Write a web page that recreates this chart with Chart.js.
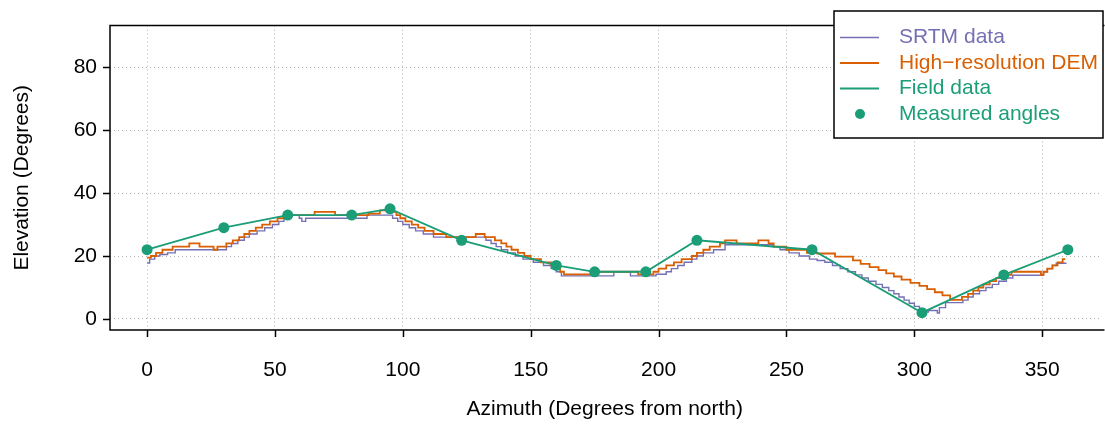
<!DOCTYPE html>
<html>
<head>
<meta charset="utf-8">
<script src="https://cdn.jsdelivr.net/npm/chart.js@4.4.1/dist/chart.umd.min.js"></script>
<style>
  html, body { margin: 0; padding: 0; background: #fff; overflow: hidden; }
  #wrap { width: 1105px; height: 433px; }
</style>
</head>
<body>
<div id="wrap"><canvas id="chart" width="1105" height="433"></canvas></div>
<script>
// SRTM profile (step starts: azimuth, elevation)
const srtmAz = [0, 1, 3, 5, 8, 11, 31, 33, 35.5, 38, 40, 43, 46, 49, 51.5, 53.5, 55, 59.5, 60.5, 62, 86,
  96, 98, 100, 102.5, 105, 108, 112, 132.5, 134.5, 136.5, 138.5, 141, 144, 147, 151, 155, 158, 160, 162,
  182.5, 189, 199, 203, 205, 207.5, 210, 213, 215, 217.5, 221.5, 226, 244.5, 247.5, 251, 255, 259,
  262, 265, 268, 271, 274, 277, 279.5, 282, 285, 287.5, 290, 292, 294, 296, 298, 300, 302, 304, 305.5,
  309, 309.8, 312.2, 319, 321, 323, 325.5, 328, 330.5, 333, 336, 338.5, 350.5, 352, 354, 355.5, 359.5];
const srtmElev = [17.8, 19, 20, 20.5, 21, 22, 23, 24, 25, 26, 27, 28, 29, 30, 31, 32, 33, 32, 31, 32, 33,
  32, 31, 30, 29, 28, 27, 26, 25, 24, 23, 22, 21, 20, 19, 18, 17, 16, 15, 13.7,
  15, 13.7, 14.2, 15, 16, 17, 18, 19, 20, 21, 22, 23.6, 23, 22, 21, 20, 19,
  18.6, 18, 17, 16, 15, 14, 13, 12, 11, 10, 9, 8, 7, 6, 5, 4, 3, 2.2, 2.7,
  1.9, 3.6, 5.2, 6, 7, 8, 9, 10, 11, 12, 13, 13.9, 15, 16, 17, 17.7, 17.7];

// High-resolution DEM profile (step starts: azimuth, elevation)
const demAz = [0, 1.5, 3.5, 6, 10, 16.5, 20.5, 26, 27.5, 31, 33.5, 36, 38, 40, 42.5, 45, 48, 51, 54,
  65.5, 73.5, 86.5, 91, 96, 97.5, 99, 101, 103.5, 106, 108.5, 112, 117, 128.5, 132, 136, 138.5, 140.5,
  142.5, 145, 147.5, 150, 154, 158, 160, 161.5, 163, 176, 192, 198, 200, 203, 206, 209, 213, 215,
  217.5, 220, 224, 226, 230.5, 239, 243, 245, 250, 258, 262, 269, 276, 279, 282.5, 286, 289, 292,
  295, 298.5, 302, 305, 308, 311, 314, 318.6, 321, 323, 325, 327, 329.5, 332, 335, 338, 349.5, 350.5,
  352, 354, 356, 358, 359];
const demElev = [19.5, 20, 21, 22, 23, 24, 23, 22, 23, 24, 25, 26, 27, 28, 29, 30, 31, 32, 33,
  34, 33, 33.5, 34.5, 34, 33, 32, 31, 30, 29, 28, 27, 26, 27, 26, 25, 24, 23,
  22, 21, 20, 19, 18, 17, 16, 15, 14.2, 15, 14.2, 15, 16, 17, 18, 19, 20, 21,
  22, 23, 24, 25, 24, 25, 24, 23, 22, 21, 20.8, 19.8, 18.6, 17.5, 16.5, 15.5, 14.5, 13.5,
  12.5, 11.5, 10.5, 9.5, 8.5, 7.5, 6.1, 7, 8, 9, 10, 11, 12, 13, 14, 15, 14, 15,
  16, 17, 18, 19, 19];

// Field data / measured angles
const fieldAz = [0, 30, 55, 80, 95, 123, 160, 175, 195, 215, 260, 303, 335, 360];
const fieldElev = [22, 29, 33, 33, 35, 25, 17, 15, 15, 25, 22, 2, 14, 22];

const xTicks = [0, 50, 100, 150, 200, 250, 300, 350];
const yTicks = [0, 20, 40, 60, 80];
const legendLabels = ['SRTM data', 'High\u2212resolution DEM', 'Field data', 'Measured angles'];

const colSrtm = '#7570B3';
const colDem = '#D95F02';
const colField = '#1B9E77';
const fontFamily = '"Liberation Sans", Arial, Helvetica, sans-serif';

function pts(xs, ys) {
  return xs.map((v, i) => ({ x: v, y: ys[i] }));
}

const framePlugin = {
  id: 'frame',
  afterDraw(chart) {
    const { ctx, chartArea: a, scales: { x, y } } = chart;
    ctx.save();
    ctx.strokeStyle = '#000';
    ctx.lineWidth = 1.5;
    ctx.beginPath();
    ctx.moveTo(a.right + 5, a.top);
    ctx.lineTo(a.left, a.top);
    ctx.lineTo(a.left, a.bottom);
    ctx.lineTo(a.right + 5, a.bottom);
    xTicks.forEach(v => {
      const px = Math.round(x.getPixelForValue(v)) + 0.5;
      ctx.moveTo(px, a.bottom);
      ctx.lineTo(px, a.bottom + 7);
    });
    yTicks.forEach(v => {
      const py = Math.round(y.getPixelForValue(v)) + 0.5;
      ctx.moveTo(a.left - 7, py);
      ctx.lineTo(a.left, py);
    });
    ctx.stroke();

    // legend
    const bx = 834, by = 11, bw = 269, bh = 127;
    ctx.fillStyle = '#ffffff';
    ctx.fillRect(bx, by, bw, bh);
    ctx.strokeRect(bx, by, bw, bh);
    const cols = [colSrtm, colDem, colField, colField];
    ctx.font = '21px ' + fontFamily;
    ctx.textBaseline = 'middle';
    ctx.textAlign = 'left';
    legendLabels.forEach((lab, i) => {
      const ly = 37.5 + i * 25.5;
      if (i < 3) {
        ctx.strokeStyle = cols[i];
        ctx.lineWidth = i === 0 ? 1.3 : 1.8;
        ctx.beginPath();
        ctx.moveTo(840, ly);
        ctx.lineTo(879, ly);
        ctx.stroke();
      } else {
        ctx.fillStyle = cols[i];
        ctx.beginPath();
        ctx.arc(860, ly, 5, 0, Math.PI * 2);
        ctx.fill();
      }
      ctx.fillStyle = cols[i];
      ctx.fillText(lab, 899, ly);
    });
    ctx.restore();
  }
};

new Chart(document.getElementById('chart'), {
  type: 'line',
  data: {
    datasets: [
      {
        label: 'Measured angles',
        data: pts(fieldAz, fieldElev),
        showLine: false,
        pointRadius: 5.5,
        pointBackgroundColor: colField,
        pointBorderWidth: 0
      },
      {
        label: 'Field data',
        data: pts(fieldAz, fieldElev),
        borderColor: colField,
        borderWidth: 1.8,
        pointRadius: 0,
        tension: 0
      },
      {
        label: 'High-resolution DEM',
        data: pts(demAz, demElev),
        borderColor: colDem,
        borderWidth: 1.8,
        pointRadius: 0,
        stepped: true
      },
      {
        label: 'SRTM data',
        data: pts(srtmAz, srtmElev),
        borderColor: colSrtm,
        borderWidth: 1.4,
        pointRadius: 0,
        stepped: true
      }
    ]
  },
  options: {
    responsive: false,
    animation: false,
    layout: { padding: { top: 11, right: 0, left: 0, bottom: 0 } },
    plugins: {
      legend: { display: false },
      tooltip: { enabled: false }
    },
    scales: {
      x: {
        type: 'linear',
        min: -14.5,
        max: 372.4,
        afterFit(scale) { scale.height = 103; },
        afterBuildTicks(scale) { scale.ticks = xTicks.map(v => ({ value: v })); },
        grid: { color: '#b0b0b0', lineWidth: 1, drawTicks: false },
        border: { display: false, dash: [1, 3] },
        ticks: { color: '#000', padding: 28, maxRotation: 0, font: { size: 21, family: fontFamily } },
        title: {
          display: true,
          text: 'Azimuth (Degrees from north)',
          color: '#000',
          padding: { bottom: 11 },
          font: { size: 21, family: fontFamily }
        }
      },
      y: {
        min: -3.5,
        max: 93.2,
        afterFit(scale) { scale.width = 110; },
        afterBuildTicks(scale) { scale.ticks = yTicks.map(v => ({ value: v })); },
        grid: { color: '#b0b0b0', lineWidth: 1, drawTicks: false },
        border: { display: false, dash: [1, 3] },
        ticks: { color: '#000', padding: 13, font: { size: 21, family: fontFamily } },
        title: {
          display: true,
          text: 'Elevation (Degrees)',
          color: '#000',
          padding: { top: 10 },
          font: { size: 21, family: fontFamily }
        }
      }
    }
  },
  plugins: [framePlugin]
});
</script>
</body>
</html>
